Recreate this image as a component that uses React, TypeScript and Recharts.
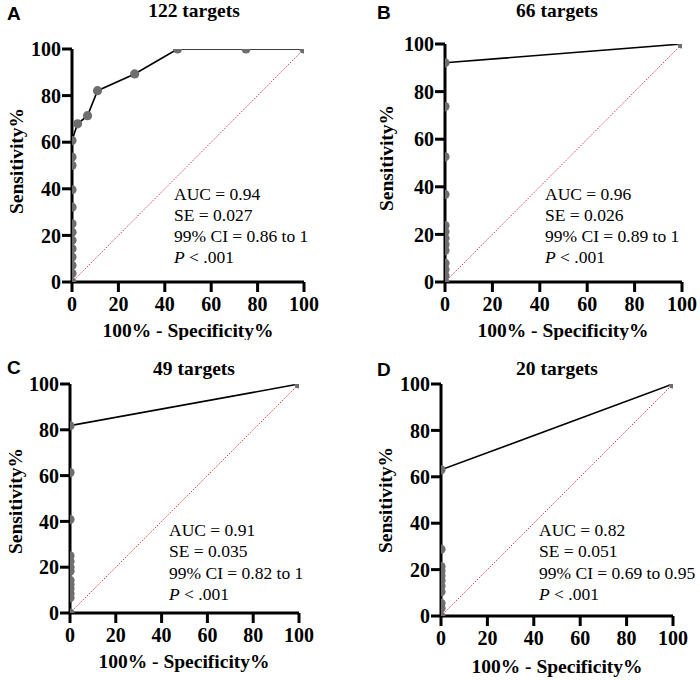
import React from 'react';
import { ComposedChart, XAxis, YAxis, Scatter, Line, ReferenceLine } from 'recharts';

// ---- data ----
const ticks = [0, 20, 40, 60, 80, 100];

const titlesList = ['122 targets', '66 targets', '49 targets', '20 targets'];
const letters = ['A', 'B', 'C', 'D'];

const fprA = [0, 0, 0, 0, 0, 0, 0, 0, 0, 0, 0, 0, 0, 2.4, 6.7, 11, 27, 45.5, 75, 100];
const tprA = [0, 3.6, 7.1, 10.7, 14.3, 17.9, 21.4, 25, 32.1, 39.6, 50, 53.6, 60.7, 67.9, 71.4, 82.1, 89.3, 100, 100, 100];

const fprB = [0, 0, 0, 0, 0, 0, 0, 0, 0, 0, 0, 0, 0, 100];
const tprB = [0, 2.6, 5.3, 7.9, 13.2, 15.8, 18.4, 21.1, 23.7, 36.8, 52.6, 73.7, 92.1, 100];

const fprC = [0, 0, 0, 0, 0, 0, 0, 0, 0, 0, 0, 0, 0, 100];
const tprC = [0, 6.7, 8.5, 10.7, 12.4, 14.3, 18.2, 20, 22.5, 25, 40.8, 61.3, 81.8, 100];

const fprD = [0, 0, 0, 0, 0, 0, 0, 0, 0, 0, 0, 100];
const tprD = [0, 3.3, 5.5, 10.5, 12.9, 15.3, 17.3, 19.4, 21.3, 28.8, 63, 100];

const aucList = ['0.94', '0.96', '0.91', '0.82'];
const seList = ['0.027', '0.026', '0.035', '0.051'];
const ciList = ['0.86 to 1', '0.89 to 1', '0.82 to 1', '0.69 to 0.95'];
const pText = '< .001';

const xTitle = '100% - Specificity%';
const yTitle = 'Sensitivity%';

// ---- layout ----
const SERIF = "'Liberation Serif', 'Times New Roman', Times, serif";
const SANS = "'Liberation Sans', Arial, Helvetica, sans-serif";

type Layout = {
  left: number; top: number;
  margin: { top: number; right: number; bottom: number; left: number };
  titleX: number; titleY: number;
  letterX: number; letterY: number;
  yLabX: number; yLabCY: number;
  annX: number; annY: number;
  xTitleX: number; xTitleY: number;
};

const layouts: Layout[] = [
  { left: 0, top: 0, margin: { top: 49, right: 46, bottom: 28, left: 32 }, titleX: 194, titleY: 17, letterX: 7, letterY: 20, yLabX: 23, yLabCY: 161, annX: 174, annY: 199.5, xTitleX: 188, xTitleY: 337 },
  { left: 350, top: 0, margin: { top: 44, right: 18, bottom: 28, left: 55 }, titleX: 207, titleY: 17, letterX: 27, letterY: 19, yLabX: 43, yLabCY: 158, annX: 195, annY: 199.5, xTitleX: 213, xTitleY: 337 },
  { left: 0, top: 340, margin: { top: 44, right: 51, bottom: 37, left: 30 }, titleX: 194, titleY: 35, letterX: 7, letterY: 34, yLabX: 22, yLabCY: 161, annX: 169, annY: 196, xTitleX: 184, xTitleY: 328 },
  { left: 350, top: 340, margin: { top: 44, right: 27, bottom: 34, left: 51 }, titleX: 207, titleY: 35, letterX: 27, letterY: 36, yLabX: 42, yLabCY: 160, annX: 189, annY: 196, xTitleX: 207, xTitleY: 333 },
];

const series = [
  { fpr: fprA, tpr: tprA },
  { fpr: fprB, tpr: tprB },
  { fpr: fprC, tpr: tprC },
  { fpr: fprD, tpr: tprD },
];

const W = 350;
const H = 340;
const Y_AXIS_W = 40;

const tickStyle = { fontWeight: 700, fontSize: 20, fill: '#000' };
const axisStroke = { stroke: '#000', strokeWidth: 3 };

function Panel({ idx }: { idx: number }) {
  const L = layouts[idx];
  const s = series[idx];
  const pts = s.fpr.map((x, i) => ({ x, y: s.tpr[i] }));
  const lh = 21.3;
  return (
    <div style={{ position: 'absolute', left: L.left, top: L.top, width: W, height: H, fontFamily: SERIF }}>
      <ComposedChart width={W} height={H} margin={L.margin} style={{ fontFamily: SERIF }}>
        <XAxis
          type="number"
          dataKey="x"
          domain={[0, 100]}
          ticks={ticks}
          allowDataOverflow
          height={30}
          tickSize={10}
          tickMargin={5}
          axisLine={axisStroke}
          tickLine={axisStroke}
          tick={tickStyle}
          interval={0}
        />
        <YAxis
          type="number"
          dataKey="y"
          domain={[0, 100]}
          ticks={ticks}
          allowDataOverflow
          width={Y_AXIS_W}
          tickSize={10}
          tickMargin={1}
          axisLine={axisStroke}
          tickLine={axisStroke}
          tick={tickStyle}
          interval={0}
        />
        <ReferenceLine
          segment={[{ x: 0, y: 0 }, { x: 100, y: 100 }]}
          stroke="#e0383b"
          strokeWidth={1}
          strokeDasharray="1.5 1.5"
        />
        <Scatter data={pts} fill="#6e6e6e" isAnimationActive={false}
          shape={(p: any) => <circle cx={p.cx} cy={p.cy} r={4.6} fill="#6e6e6e" />} />
        <Line data={pts} dataKey="y" stroke="#000" strokeWidth={1.6} dot={false}
          activeDot={false} isAnimationActive={false} type="linear" />
      </ComposedChart>
      <svg width={W} height={H} style={{ position: 'absolute', left: 0, top: 0, pointerEvents: 'none', fontFamily: SERIF }}>
        <text x={L.letterX} y={L.letterY} style={{ fontFamily: SANS, fontWeight: 700, fontSize: 19 }} fill="#000">{letters[idx]}</text>
        <text x={L.titleX} y={L.titleY} textAnchor="middle" style={{ fontFamily: SERIF, fontWeight: 700, fontSize: 19.5 }} fill="#000">{titlesList[idx]}</text>
        <text
          transform={`translate(${L.yLabX},${L.yLabCY}) rotate(-90)`}
          textAnchor="middle"
          style={{ fontFamily: SERIF, fontWeight: 700, fontSize: 19.5 }}
          textLength={106}
          lengthAdjust="spacingAndGlyphs"
          fill="#000"
        >{yTitle}</text>
        <text x={L.xTitleX} y={L.xTitleY} textAnchor="middle" style={{ fontFamily: SERIF, fontWeight: 700, fontSize: 19.5 }} fill="#000">{xTitle}</text>
        <g style={{ fontFamily: SERIF, fontSize: 17.5 }} fill="#000">
          <text x={L.annX} y={L.annY}>{`AUC = ${aucList[idx]}`}</text>
          <text x={L.annX} y={L.annY + lh}>{`SE = ${seList[idx]}`}</text>
          <text x={L.annX} y={L.annY + 2 * lh}>{`99% CI = ${ciList[idx]}`}</text>
          <text x={L.annX} y={L.annY + 3 * lh}><tspan fontStyle="italic">P</tspan>{` ${pText}`}</text>
        </g>
      </svg>
    </div>
  );
}

export default function App() {
  return (
    <div style={{ position: 'absolute', left: 0, top: 0, width: 700, height: 680, background: '#fff' }}>
      {[0, 1, 2, 3].map((i) => <Panel key={i} idx={i} />)}
    </div>
  );
}
